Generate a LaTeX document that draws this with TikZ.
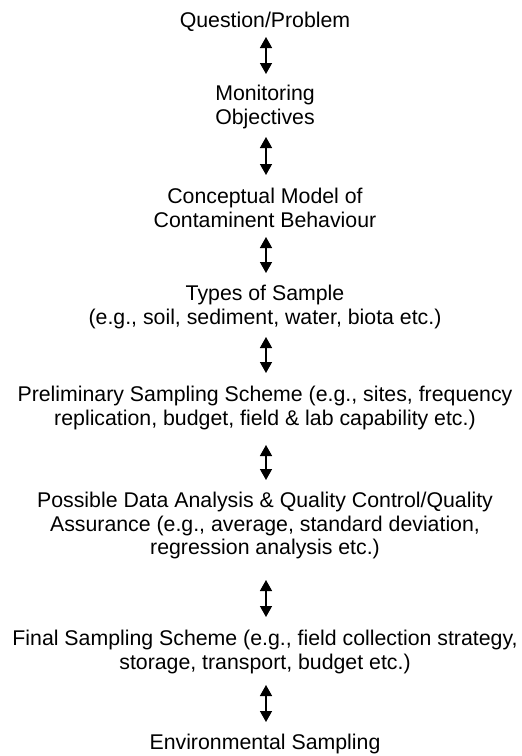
\documentclass[tikz,border=0pt]{standalone}
\usepackage{fontspec}
\setmainfont{Liberation Sans}
\usetikzlibrary{arrows.meta}
\begin{document}
\begin{tikzpicture}[x=1pt,y=-1pt,
  blk/.style={anchor=north, inner sep=0pt, align=center,
    font=\fontsize{21.3}{23.5}\selectfont},
  biarrow/.style={line width=1.5pt, {Triangle[length=11pt,width=12pt]}-{Triangle[length=11pt,width=12pt]}}]
\useasboundingbox (0,0) rectangle (522,756);
\node[blk] (q) at (265,12) {Question/Problem};
\node[blk] (m) at (265,85) {Monitoring\\Objectives};
\node[blk] (c) at (265,188) {Conceptual Model of\\Contaminent Behaviour};
\node[blk] (t) at (265,285) {Types of Sample\\(e.g., soil, sediment, water, biota etc.)};
\node[blk] (p) at (265,386) {Preliminary Sampling Scheme (e.g., sites, frequency\\replication, budget, field \& lab capability etc.)};
\node[blk] (d) at (265,492) {Possible Data Analysis \& Quality Control/Quality\\Assurance (e.g., average, standard deviation,\\regression analysis etc.)};
\node[blk] (f) at (265,630) {Final Sampling Scheme (e.g., field collection strategy,\\storage, transport, budget etc.)};
\node[blk] (e) at (265,734) {Environmental Sampling};
\draw[biarrow] ([xshift=1pt]q.south |- 0,37) -- ([xshift=1pt]m.north |- 0,74);
\draw[biarrow] ([xshift=1pt]m.south |- 0,137) -- ([xshift=1pt]c.north |- 0,175);
\draw[biarrow] ([xshift=1pt]c.south |- 0,237) -- ([xshift=1pt]t.north |- 0,273);
\draw[biarrow] ([xshift=1pt]t.south |- 0,337) -- ([xshift=1pt]p.north |- 0,373);
\draw[biarrow] ([xshift=1pt]p.south |- 0,445) -- ([xshift=1pt]d.north |- 0,480);
\draw[biarrow] ([xshift=1pt]d.south |- 0,580) -- ([xshift=1pt]f.north |- 0,617);
\draw[biarrow] ([xshift=1pt]f.south |- 0,685) -- ([xshift=1pt]e.north |- 0,722);
\end{tikzpicture}
\end{document}
